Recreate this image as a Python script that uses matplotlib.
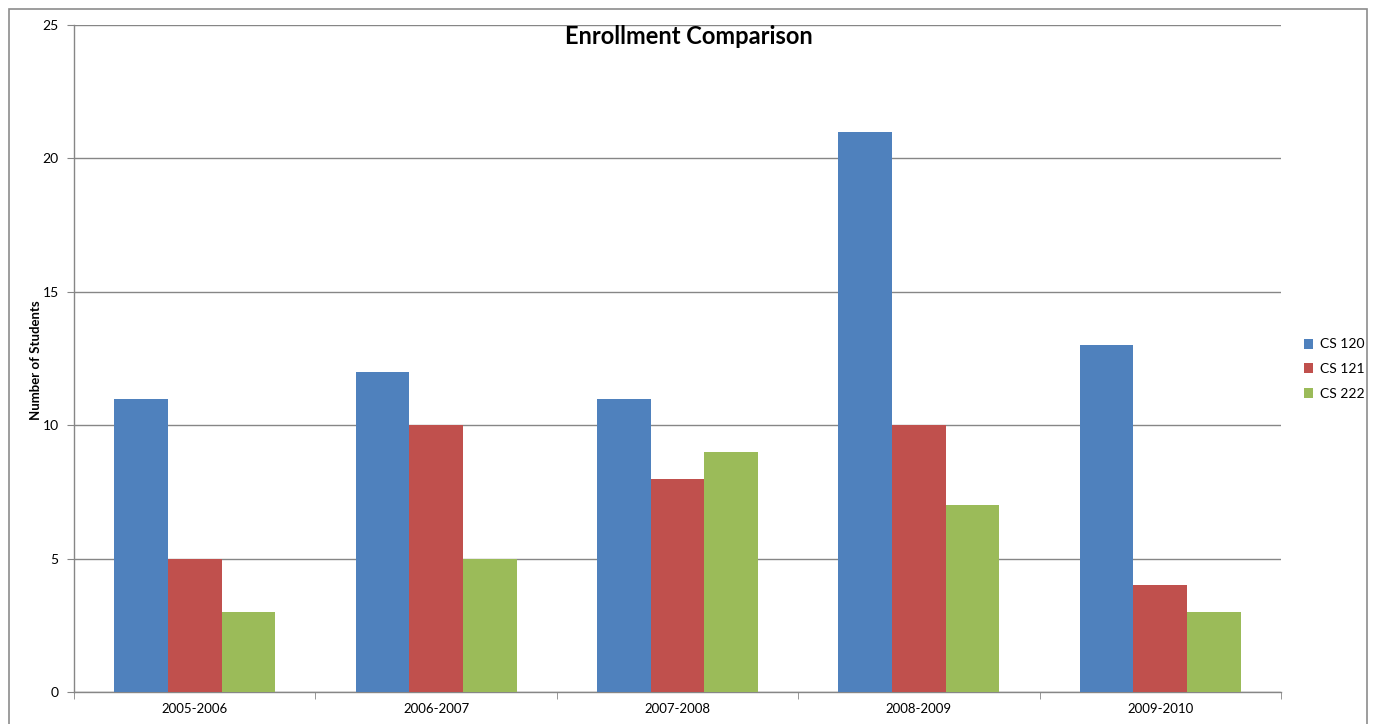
import matplotlib
matplotlib.use("Agg")
import matplotlib.pyplot as plt
import numpy as np
from matplotlib.patches import Rectangle

categories = ["2005-2006", "2006-2007", "2007-2008", "2008-2009", "2009-2010"]
series_names = ["CS 120", "CS 121", "CS 222"]
cs120 = [11, 12, 11, 21, 13]
cs121 = [5, 10, 8, 10, 4]
cs222 = [3, 5, 9, 7, 3]
colors = ["#4F81BD", "#C0504D", "#9BBB59"]
y_ticks = [0, 5, 10, 15, 20, 25]

plt.rcParams['font.family'] = ['Lato', 'DejaVu Sans']

W, H = 1374, 724
fig = plt.figure(figsize=(W/100, H/100), dpi=100)
ax = fig.add_axes([74/W, 1-692/H, (1281-74)/W, (692-25)/H])

x = np.arange(len(categories))
w = 1/4.5
for i, (vals, name, c) in enumerate(zip([cs120, cs121, cs222], series_names, colors)):
    ax.bar(x + (i-1)*w, vals, width=w, color=c, label=name, zorder=3, linewidth=0)

ax.set_xlim(-0.5, len(categories)-0.5)
ax.set_ylim(0, 25)
ax.set_yticks(y_ticks)
ax.set_xticks(x)
ax.set_xticklabels(categories, fontsize=9.5)
ax.tick_params(axis='x', length=0, pad=8)
ax.set_xticks(np.arange(-0.5, len(categories)), minor=True)
ax.tick_params(axis='x', which='minor', length=5, color='#868686', direction='out')
ax.tick_params(axis='y', length=5, color='#868686', labelsize=10, pad=6)
ax.yaxis.grid(True, color='#868686', linewidth=1, zorder=0)
ax.set_axisbelow(True)
for s in ['top', 'right']:
    ax.spines[s].set_visible(False)
for s in ['left', 'bottom']:
    ax.spines[s].set_color('#868686')
    ax.spines[s].set_linewidth(1)
fig.text(36/W, 1-360/H, "Number of Students", rotation=90, ha='center', va='center',
         fontsize=9.5, fontweight='bold')
fig.text(689/W, 1-37/H, "Enrollment Comparison", ha='center', va='center',
         fontsize=17, fontweight='bold')

leg = fig.legend(loc='center left', bbox_to_anchor=(1291/W, 1-369/H), frameon=False,
                 fontsize=10, handlelength=0.7, handleheight=0.7, handletextpad=0.5,
                 labelspacing=0.9)

fig.patches.append(Rectangle((9/W, -0.1), (1367-9)/W, 1.1-9/H, transform=fig.transFigure,
                             fill=False, edgecolor='#8c8c8c', linewidth=1.2))

fig.savefig("out.png", dpi=100)
